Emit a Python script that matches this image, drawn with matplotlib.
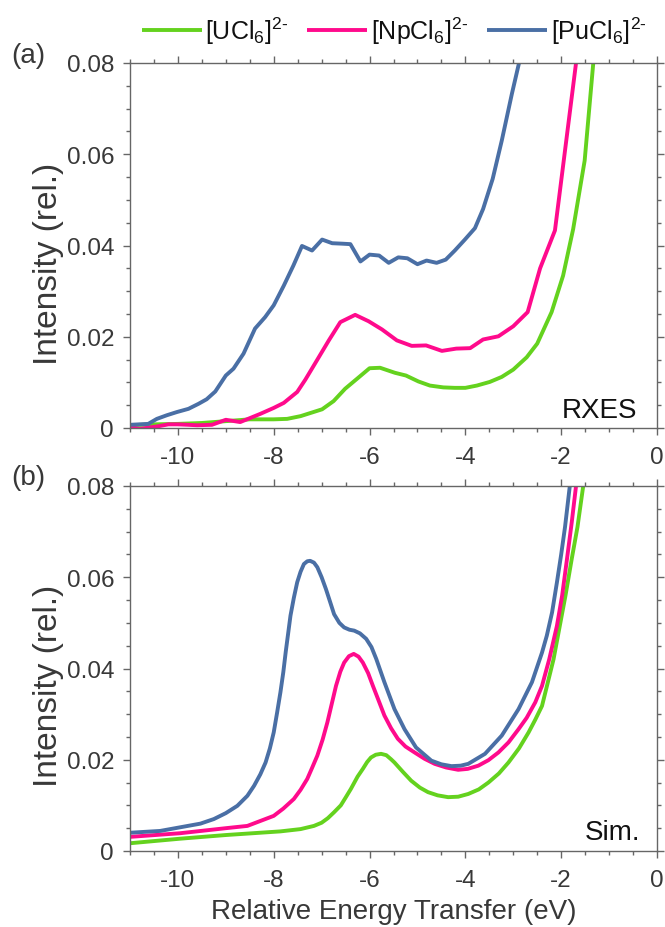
import matplotlib
matplotlib.use("Agg")
import matplotlib.pyplot as plt
from matplotlib.ticker import MultipleLocator

plt.rcParams['font.family'] = ['Liberation Sans', 'DejaVu Sans']
plt.rcParams['mathtext.fontset'] = 'custom'
plt.rcParams['mathtext.rm'] = 'Liberation Sans'
plt.rcParams['mathtext.it'] = 'Liberation Sans'

# ---------------- data ----------------
labels = [r'[UCl$_6$]$^{2\text{-}}$', r'[NpCl$_6$]$^{2\text{-}}$', r'[PuCl$_6$]$^{2\text{-}}$']
colors = ['#64D21E', '#FF0A8C', '#4A6FA5']

# (a) RXES experimental
u_rxes_x = [-11, -10.5, -10.0, -9.5, -9.0, -8.5, -8.0, -7.72, -7.44, -6.99, -6.75, -6.51, -6.26, -6.0,
            -5.78, -5.47, -5.24, -4.98, -4.74, -4.46, -4.22, -4.0, -3.76, -3.49, -3.24, -3.0, -2.72,
            -2.5, -2.2, -1.96, -1.75, -1.51, -1.33, -1.25]
u_rxes_y = [0.0006, 0.0008, 0.0009, 0.0011, 0.0015, 0.0019, 0.0019, 0.0020, 0.0026, 0.0041, 0.0059,
            0.0086, 0.0108, 0.0131, 0.0132, 0.0121, 0.0115, 0.0102, 0.0093, 0.0089, 0.0088, 0.0088,
            0.0093, 0.0101, 0.0112, 0.0128, 0.0155, 0.0185, 0.0254, 0.0334, 0.0436, 0.0586, 0.080, 0.090]

np_rxes_x = [-11, -10.8, -10.6, -10.4, -10.2, -10.0, -9.78, -9.6, -9.29, -9.0, -8.7, -8.49, -8.28, -8.0,
             -7.79, -7.51, -7.34, -7.1, -6.85, -6.61, -6.3, -6.02, -5.74, -5.43, -5.12, -4.82,
             -4.49, -4.19, -3.9, -3.63, -3.31, -3.0, -2.7, -2.44, -2.13, -1.69, -1.6]
np_rxes_y = [0.0002, -0.0002, 0.0001, 0.0004, 0.0008, 0.0008, 0.0007, 0.0006, 0.0007, 0.0018, 0.0013,
             0.0022, 0.0031, 0.0044, 0.0055, 0.0079, 0.0106, 0.0148, 0.0192, 0.0232, 0.0248, 0.0234,
             0.0216, 0.0192, 0.0180, 0.0181, 0.0169, 0.0174, 0.0175, 0.0194, 0.0201, 0.0223, 0.0254,
             0.0350, 0.0433, 0.080, 0.087]

pu_rxes_x = [-11, -10.62, -10.44, -10.23, -10.02, -9.78, -9.57, -9.4, -9.22, -9.0, -8.84, -8.63, -8.39,
             -8.18, -8.0, -7.79, -7.59, -7.41, -7.2, -6.99, -6.78, -6.57, -6.4, -6.19, -6.0, -5.8,
             -5.6, -5.4, -5.21, -5.0, -4.81, -4.6, -4.41, -4.22, -4.01, -3.8, -3.63, -3.43, -3.24,
             -3.03, -2.88, -2.8]
pu_rxes_y = [0.0007, 0.0009, 0.0020, 0.0028, 0.0035, 0.0042, 0.0053, 0.0063, 0.0080, 0.0115, 0.0130,
             0.0163, 0.0218, 0.0243, 0.0269, 0.0312, 0.0356, 0.0399, 0.0389, 0.0413, 0.0405, 0.0404,
             0.0403, 0.0365, 0.0380, 0.0378, 0.0362, 0.0374, 0.0372, 0.0359, 0.0367, 0.0362, 0.0369,
             0.0389, 0.0413, 0.0438, 0.0480, 0.0546, 0.0630, 0.0732, 0.080, 0.085]

# (b) simulated
u_sim_x = [-11, -9.95, -9.0, -7.86, -7.44, -7.16, -7.0, -6.87, -6.74, -6.6, -6.5, -6.39, -6.25, -6.14,
           -6.05, -5.97, -5.87, -5.76, -5.65, -5.55, -5.48, -5.3, -5.13, -4.95, -4.78, -4.58, -4.36,
           -4.15, -3.94, -3.72, -3.52, -3.3, -3.1, -2.88, -2.68, -2.54, -2.4, -2.16, -1.91, -1.78,
           -1.66, -1.54, -1.45]
u_sim_y = [0.0017, 0.0027, 0.0035, 0.0043, 0.0048, 0.0055, 0.0062, 0.0072, 0.0085, 0.0100, 0.0117,
           0.0136, 0.0163, 0.0180, 0.0195, 0.0205, 0.0211, 0.0213, 0.0210, 0.0201, 0.0194, 0.0173,
           0.0154, 0.0139, 0.0129, 0.0122, 0.0118, 0.0119, 0.0125, 0.0135, 0.0150, 0.0170, 0.0194,
           0.0225, 0.0260, 0.0288, 0.0318, 0.0420, 0.0560, 0.0640, 0.0710, 0.080, 0.090]

np_sim_x = [-11, -9.95, -9.0, -8.55, -8.0, -7.8, -7.58, -7.44, -7.3, -7.2, -7.09, -6.98, -6.88, -6.79,
            -6.7, -6.61, -6.53, -6.43, -6.33, -6.23, -6.14, -6.03, -5.93, -5.83, -5.69, -5.55, -5.41,
            -5.25, -5.06, -4.85, -4.64, -4.4, -4.15, -3.95, -3.73, -3.52, -3.31, -3.1, -2.89, -2.72,
            -2.54, -2.4, -2.25, -2.09, -1.98, -1.88, -1.78, -1.69, -1.6]
np_sim_y = [0.0031, 0.0039, 0.0050, 0.0055, 0.0077, 0.0093, 0.0114, 0.0134, 0.0158, 0.0182, 0.0209,
            0.0244, 0.0282, 0.0322, 0.0362, 0.0393, 0.0413, 0.0427, 0.0432, 0.0426, 0.0413, 0.0390,
            0.0362, 0.0335, 0.0297, 0.0269, 0.0246, 0.0229, 0.0216, 0.0202, 0.0191, 0.0183, 0.0178,
            0.0180, 0.0187, 0.0199, 0.0216, 0.0238, 0.0267, 0.0292, 0.0326, 0.0362, 0.0420, 0.0493,
            0.0560, 0.0639, 0.0720, 0.080, 0.088]

pu_sim_x = [-11, -10.37, -9.95, -9.53, -9.25, -9.0, -8.76, -8.55, -8.41, -8.28, -8.17, -8.08, -8.0,
            -7.93, -7.86, -7.8, -7.75, -7.65, -7.58, -7.51, -7.44, -7.37, -7.3, -7.24, -7.16, -7.09,
            -7.0, -6.91, -6.82, -6.74, -6.63, -6.53, -6.42, -6.32, -6.2, -6.07, -5.96, -5.86, -5.69,
            -5.48, -5.27, -5.03, -4.71, -4.5, -4.29, -4.1, -3.94, -3.59, -3.24, -2.89, -2.61, -2.4,
            -2.3, -2.19, -2.09, -2.0, -1.92, -1.82, -1.75]
pu_sim_y = [0.0040, 0.0044, 0.0052, 0.0060, 0.0070, 0.0083, 0.0099, 0.0121, 0.0143, 0.0168, 0.0194,
            0.0225, 0.0260, 0.0303, 0.0348, 0.0392, 0.0436, 0.0516, 0.0555, 0.0589, 0.0612, 0.0629,
            0.0635, 0.0636, 0.0632, 0.0622, 0.0600, 0.0574, 0.0545, 0.0519, 0.0500, 0.0490, 0.0485,
            0.0483, 0.0477, 0.0465, 0.0447, 0.0421, 0.0370, 0.0311, 0.0267, 0.0227, 0.0198, 0.0190,
            0.0186, 0.0187, 0.0191, 0.0213, 0.0253, 0.0311, 0.0370, 0.0435, 0.0472, 0.0523, 0.0588,
            0.0650, 0.0710, 0.080, 0.087]

xticks = [-10, -8, -6, -4, -2, 0]
yticks = [0, 0.02, 0.04, 0.06, 0.08]
ytick_labels = ['0', '0.02', '0.04', '0.06', '0.08']
xtick_labels = ['-10', '-8', '-6', '-4', '-2', '0']

# ---------------- figure ----------------
fig = plt.figure(figsize=(6.65, 9.28), dpi=100)
ax_a = fig.add_axes([130/665, 1-429/928, 527/665, 365/928])
ax_b = fig.add_axes([130/665, 1-852/928, 527/665, 365/928])

text_col = '#383838'
spine_col = '#666666'
lw = 2.8

series_a = [(u_rxes_x, u_rxes_y), (np_rxes_x, np_rxes_y), (pu_rxes_x, pu_rxes_y)]
series_b = [(u_sim_x, u_sim_y), (np_sim_x, np_sim_y), (pu_sim_x, pu_sim_y)]

for ax, series in ((ax_a, series_a), (ax_b, series_b)):
    for (x, y), c, lab in zip(series, colors, labels):
        ax.plot(x, y, color=c, lw=lw, label=lab, solid_joinstyle='round', solid_capstyle='butt')
    ax.set_xlim(-11, 0)
    ax.set_ylim(0, 0.08)
    ax.set_xticks(xticks)
    ax.set_xticklabels(xtick_labels)
    ax.set_yticks(yticks)
    ax.set_yticklabels(ytick_labels)
    ax.xaxis.set_minor_locator(MultipleLocator(0.5))
    ax.yaxis.set_minor_locator(MultipleLocator(0.005))
    ax.tick_params(which='both', direction='out', top=True, right=True, color=spine_col,
                   labelcolor=text_col, labelsize=17.5, width=1.0)
    ax.tick_params(which='major', length=5)
    ax.tick_params(which='minor', length=3)
    ax.tick_params(axis='x', pad=8)
    ax.tick_params(axis='y', pad=6.5)
    for s in ax.spines.values():
        s.set_color(spine_col)
        s.set_linewidth(1.0)
    ax.set_ylabel('Intensity (rel.)', fontsize=24, color=text_col)

ax_a.yaxis.set_label_coords(-0.125, 0.452)
ax_b.yaxis.set_label_coords(-0.125, 0.455)

ax_a.text(0.963, 0.030, 'RXES', transform=ax_a.transAxes, ha='right', va='baseline',
          fontsize=20, color='#111111')
ax_b.text(0.968, 0.033, 'Sim.', transform=ax_b.transAxes, ha='right', va='baseline',
          fontsize=20, color='#111111')
ax_b.set_xlabel('Relative Energy Transfer (eV)', fontsize=20, color=text_col)
ax_b.xaxis.set_label_coords(0.5, (852 - 919) / 365)
ax_b.xaxis.label.set_verticalalignment('baseline')

fig.text(11/665, 1-56/928, '(a)', fontsize=20, color=text_col, va='center', ha='left')
fig.text(11/665, 1-478/928, '(b)', fontsize=20, color=text_col, va='center', ha='left')

handles, labs = ax_a.get_legend_handles_labels()
fig.legend(handles, labs, ncol=3, loc='center', bbox_to_anchor=(394/665, 1-31/928),
           frameon=False, fontsize=18, handlelength=2.4, handletextpad=0.15,
           columnspacing=0.75, labelcolor='#111111', borderpad=0.1)

fig.savefig('out.png', dpi=100)
